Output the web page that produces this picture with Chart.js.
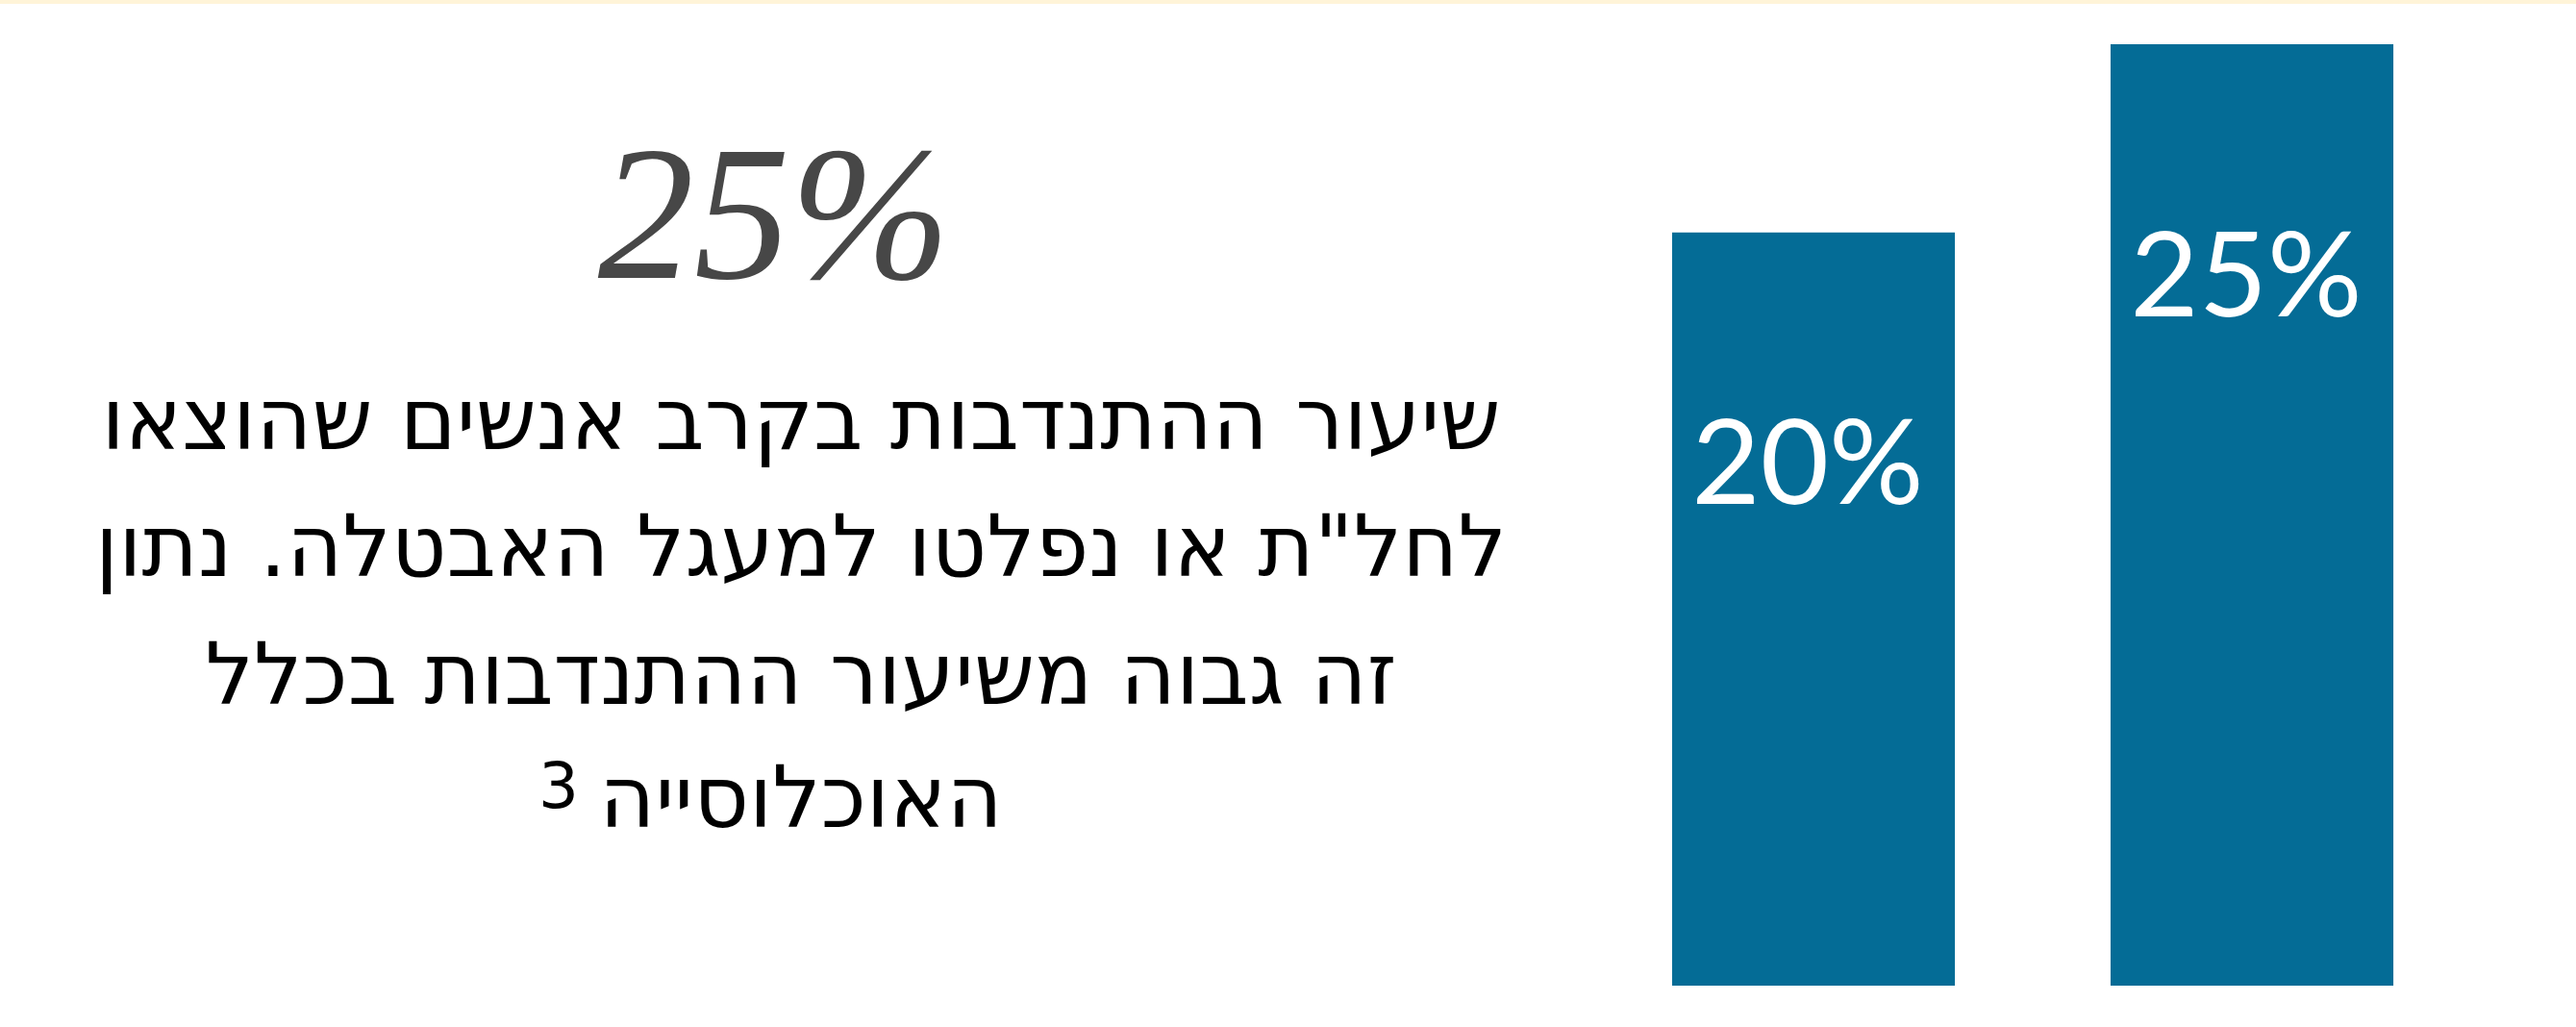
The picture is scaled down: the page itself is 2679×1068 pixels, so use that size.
<!DOCTYPE html>
<html lang="he">
<head>
<meta charset="utf-8">
<script src="https://cdn.jsdelivr.net/npm/chart.js@4.4.1/dist/chart.umd.min.js"></script>
<style>
  html, body { margin: 0; padding: 0; background: #fff; }
  #wrap { position: relative; width: 2679px; height: 1068px; overflow: hidden; }
  #band { position: absolute; left: 0; top: 0; width: 2679px; height: 4px; background: #fff4d8; }
  #chart { position: absolute; left: 0; top: 0; }
  .big { position: absolute; left: 505px; width: 600px; top: 102px; text-align: center;
         font-family: "Liberation Serif", serif; font-style: italic; font-size: 200px; line-height: 240px; color: #474747; }
  .line { position: absolute; left: 33px; width: 1600px; text-align: center; direction: rtl;
          font-family: "DejaVu Sans", sans-serif; font-size: 89px; line-height: 100px; color: #000; white-space: nowrap; }
  .sup { position: absolute; font-family: "DejaVu Sans", sans-serif; font-size: 66px; line-height: 70px; color: #000; }
</style>
</head>
<body>
<div id="wrap">
  <div id="band"></div>
  <canvas id="chart" width="2679" height="1068"></canvas>
  <div class="big">25%</div>
  <div class="line" style="top:386px">שיעור ההתנדבות בקרב אנשים שהוצאו</div>
  <div class="line" style="top:518px">לחל"ת או נפלטו למעגל האבטלה. נתון</div>
  <div class="line" style="top:651px">זה גבוה משיעור ההתנדבות בכלל</div>
  <div class="line" style="top:779px">האוכלוסייה</div>
  <div class="sup" style="left:560px; top:783px">3</div>
</div>
<script>
const categories = ['כלל האוכלוסייה', 'אנשים שהוצאו לחל"ת או נפלטו לאבטלה'];
const rates = [20, 25];

const barLabels = {
    id: 'barLabels',
    afterDatasetsDraw(chart) {
        const ctx = chart.ctx;
        const meta = chart.getDatasetMeta(0);
        ctx.save();
        ctx.fillStyle = '#ffffff';
        ctx.font = '123px Lato';
        ctx.textAlign = 'center';
        ctx.textBaseline = 'middle';
        meta.data.forEach(function (bar, i) {
            ctx.fillText(rates[i] + '%', bar.x - 6, bar.y + 243);
        });
        ctx.restore();
    }
};

const ctx = document.getElementById('chart').getContext('2d');
new Chart(ctx, {
    type: 'bar',
    data: {
        labels: categories,
        datasets: [{
            data: rates,
            backgroundColor: '#046c96',
            borderWidth: 0,
            categoryPercentage: 1,
            barPercentage: 0.645
        }]
    },
    options: {
        responsive: false,
        animation: false,
        layout: { padding: { left: 1658, right: 109, top: 46, bottom: 43 } },
        plugins: {
            legend: { display: false },
            tooltip: { enabled: false }
        },
        scales: {
            x: { display: false },
            y: { display: false, min: 0, max: 25 }
        }
    },
    plugins: [barLabels]
});
</script>
</body>
</html>
